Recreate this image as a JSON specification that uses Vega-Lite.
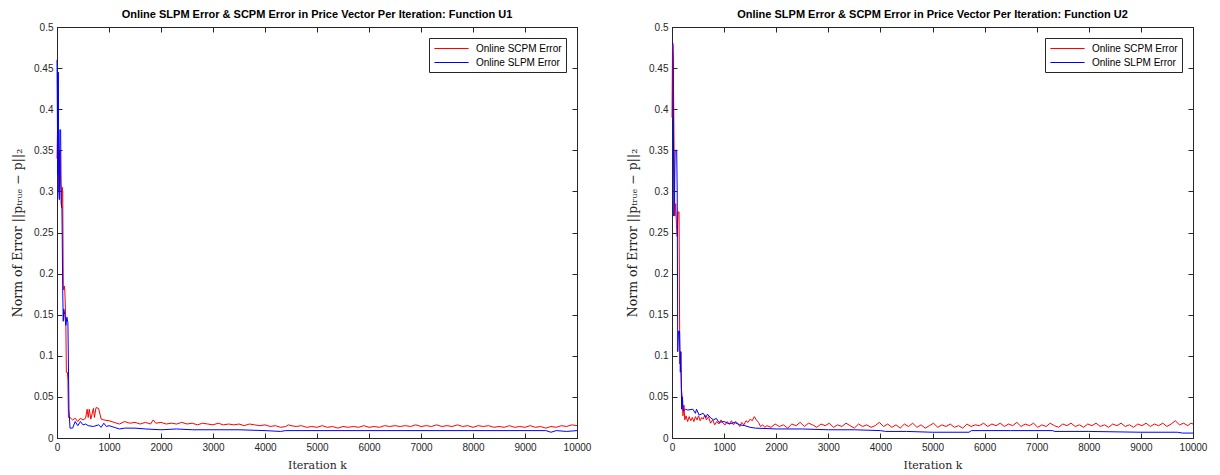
{
"$schema": "https://vega.github.io/schema/vega-lite/v6.json",
"padding": {"left": 11, "top": 8, "right": 2, "bottom": 2},
"background": "white",
"bounds": "flush",
"spacing": 95,
"resolve": {"legend": {"color": "independent"}},
"config": {
  "font": "Liberation Sans",
  "view": {"stroke": "#262626", "strokeWidth": 1},
  "axis": {"grid": false, "labelFont": "Liberation Sans", "labelFontSize": 10, "labelColor": "#262626", "domainColor": "#262626", "tickColor": "#262626", "tickSize": -5, "labelPadding": 9, "titleFont": "DejaVu Serif", "titleFontSize": 11, "titleFontWeight": "normal", "titleColor": "#262626"},
  "axisX": {"labelPadding": 9, "titlePadding": 7},
  "axisY": {"titleFontSize": 12.5},
  "title": {"font": "Liberation Sans", "fontSize": 11, "fontWeight": "bold", "color": "black", "offset": 2, "anchor": "middle"},
  "legend": {"orient": "top-right", "offset": 11, "title": null, "strokeColor": "#262626", "fillColor": "white", "padding": 4, "symbolType": "M-3,0H3", "symbolSize": 130, "symbolOffset": 12, "labelOffset": 18, "symbolStrokeWidth": 1.2, "labelFont": "Liberation Sans", "labelFontSize": 10, "labelColor": "black", "rowPadding": 2, "cornerRadius": 0}
},
"datasets": {
  "u1r": [
    {"k":0,"e":0.34},{"k":10,"e":0.375},{"k":20,"e":0.335},{"k":30,"e":0.35},{"k":40,"e":0.30},{"k":50,"e":0.35},{"k":60,"e":0.35},{"k":70,"e":0.31},{"k":80,"e":0.30},{"k":90,"e":0.28},{"k":100,"e":0.305},{"k":110,"e":0.30},{"k":120,"e":0.185},{"k":130,"e":0.18},{"k":140,"e":0.185},{"k":150,"e":0.18},{"k":170,"e":0.14},{"k":180,"e":0.08},{"k":200,"e":0.08},{"k":210,"e":0.07},{"k":220,"e":0.025},{"k":250,"e":0.025},{"k":300,"e":0.022},{"k":350,"e":0.024},{"k":400,"e":0.02},{"k":450,"e":0.024},{"k":500,"e":0.022},{"k":550,"e":0.024},{"k":580,"e":0.035},{"k":600,"e":0.025},{"k":620,"e":0.035},{"k":650,"e":0.023},{"k":700,"e":0.036},{"k":720,"e":0.025},{"k":750,"e":0.037},{"k":800,"e":0.036},{"k":830,"e":0.028},{"k":850,"e":0.023},{"k":900,"e":0.022},
    {"k":1000,"e":0.021},{"k":1100,"e":0.019},{"k":1200,"e":0.017},{"k":1300,"e":0.02},{"k":1400,"e":0.018},{"k":1500,"e":0.019},{"k":1600,"e":0.017},{"k":1700,"e":0.019},{"k":1800,"e":0.017},{"k":1850,"e":0.022},{"k":1900,"e":0.018},{"k":2000,"e":0.019},{"k":2100,"e":0.017},{"k":2200,"e":0.018},{"k":2300,"e":0.017},{"k":2400,"e":0.019},{"k":2500,"e":0.017},{"k":2600,"e":0.018},{"k":2700,"e":0.016},{"k":2800,"e":0.018},{"k":2900,"e":0.017},{"k":3000,"e":0.016},{"k":3100,"e":0.018},{"k":3200,"e":0.016},{"k":3300,"e":0.017},{"k":3400,"e":0.016},{"k":3500,"e":0.017},{"k":3600,"e":0.015},{"k":3700,"e":0.017},{"k":3800,"e":0.016},{"k":3900,"e":0.015},{"k":4000,"e":0.016},{"k":4100,"e":0.014},{"k":4200,"e":0.015},{"k":4300,"e":0.013},{"k":4400,"e":0.014},{"k":4450,"e":0.016},{"k":4500,"e":0.015},{"k":4600,"e":0.014},{"k":4700,"e":0.015},{"k":4800,"e":0.013},{"k":4900,"e":0.014},{"k":5000,"e":0.013},{"k":5100,"e":0.015},{"k":5200,"e":0.013},{"k":5300,"e":0.014},{"k":5400,"e":0.012},{"k":5500,"e":0.014},{"k":5600,"e":0.013},{"k":5700,"e":0.014},{"k":5800,"e":0.013},{"k":5900,"e":0.015},{"k":6000,"e":0.013},{"k":6100,"e":0.014},{"k":6200,"e":0.013},{"k":6300,"e":0.015},{"k":6400,"e":0.014},{"k":6500,"e":0.015},{"k":6600,"e":0.014},{"k":6700,"e":0.015},{"k":6800,"e":0.014},{"k":6900,"e":0.016},{"k":7000,"e":0.014},{"k":7100,"e":0.015},{"k":7200,"e":0.014},{"k":7300,"e":0.016},{"k":7400,"e":0.014},{"k":7500,"e":0.015},{"k":7600,"e":0.014},{"k":7700,"e":0.016},{"k":7800,"e":0.014},{"k":7900,"e":0.015},{"k":8000,"e":0.013},{"k":8100,"e":0.015},{"k":8200,"e":0.014},{"k":8300,"e":0.015},{"k":8400,"e":0.013},{"k":8500,"e":0.014},{"k":8600,"e":0.013},{"k":8700,"e":0.015},{"k":8800,"e":0.013},{"k":8900,"e":0.014},{"k":9000,"e":0.013},{"k":9100,"e":0.015},{"k":9200,"e":0.013},{"k":9300,"e":0.014},{"k":9400,"e":0.012},{"k":9500,"e":0.014},{"k":9600,"e":0.013},{"k":9700,"e":0.015},{"k":9800,"e":0.014},{"k":9900,"e":0.016},{"k":10000,"e":0.015}
  ],
  "u1b": [
    {"k":0,"e":0.46},{"k":15,"e":0.32},{"k":25,"e":0.445},{"k":35,"e":0.30},{"k":45,"e":0.29},{"k":55,"e":0.375},{"k":70,"e":0.375},{"k":80,"e":0.285},{"k":95,"e":0.28},{"k":110,"e":0.18},{"k":120,"e":0.142},{"k":130,"e":0.157},{"k":150,"e":0.15},{"k":170,"e":0.137},{"k":190,"e":0.147},{"k":210,"e":0.14},{"k":230,"e":0.035},{"k":250,"e":0.012},{"k":300,"e":0.012},{"k":350,"e":0.02},{"k":400,"e":0.015},{"k":450,"e":0.02},{"k":500,"e":0.016},{"k":550,"e":0.017},{"k":600,"e":0.015},{"k":700,"e":0.014},{"k":800,"e":0.016},{"k":850,"e":0.013},{"k":900,"e":0.018},{"k":950,"e":0.014},{"k":1000,"e":0.015},{"k":1100,"e":0.013},{"k":1200,"e":0.011},{"k":1300,"e":0.012},{"k":1500,"e":0.012},{"k":1700,"e":0.011},{"k":2000,"e":0.010},{"k":2300,"e":0.011},{"k":2600,"e":0.01},{"k":3000,"e":0.01},{"k":3500,"e":0.01},{"k":4000,"e":0.009},{"k":4300,"e":0.008},{"k":4400,"e":0.009},{"k":5000,"e":0.009},{"k":6000,"e":0.009},{"k":7000,"e":0.009},{"k":8000,"e":0.009},{"k":9000,"e":0.009},{"k":9400,"e":0.009},{"k":9500,"e":0.007},{"k":9600,"e":0.009},{"k":9800,"e":0.008},{"k":10000,"e":0.009}
  ],
  "u2r": [
    {"k":0,"e":0.39},{"k":10,"e":0.48},{"k":25,"e":0.46},{"k":40,"e":0.35},{"k":55,"e":0.27},{"k":70,"e":0.285},{"k":85,"e":0.26},{"k":100,"e":0.245},{"k":115,"e":0.275},{"k":135,"e":0.275},{"k":150,"e":0.09},{"k":165,"e":0.105},{"k":180,"e":0.06},{"k":195,"e":0.05},{"k":210,"e":0.027},{"k":230,"e":0.04},{"k":245,"e":0.022},{"k":270,"e":0.027},{"k":300,"e":0.02},{"k":330,"e":0.026},{"k":360,"e":0.021},{"k":390,"e":0.025},{"k":420,"e":0.02},{"k":450,"e":0.026},{"k":480,"e":0.022},{"k":510,"e":0.027},{"k":540,"e":0.021},{"k":570,"e":0.025},{"k":600,"e":0.023},{"k":630,"e":0.028},{"k":660,"e":0.022},{"k":700,"e":0.026},{"k":740,"e":0.018},{"k":780,"e":0.022},{"k":820,"e":0.016},{"k":860,"e":0.02},{"k":900,"e":0.017},{"k":940,"e":0.022},{"k":980,"e":0.018},{"k":1020,"e":0.016},{"k":1060,"e":0.02},{"k":1100,"e":0.017},{"k":1140,"e":0.021},{"k":1180,"e":0.016},{"k":1220,"e":0.02},{"k":1260,"e":0.018},{"k":1300,"e":0.014},{"k":1340,"e":0.019},{"k":1380,"e":0.016},{"k":1420,"e":0.021},{"k":1460,"e":0.019},{"k":1500,"e":0.023},{"k":1540,"e":0.021},{"k":1580,"e":0.026},{"k":1620,"e":0.022},{"k":1660,"e":0.019},{"k":1700,"e":0.014},{"k":1740,"e":0.016},{"k":1780,"e":0.013},
    {"k":1820,"e":0.015},{"k":1900,"e":0.013},{"k":1980,"e":0.017},{"k":2060,"e":0.014},{"k":2140,"e":0.016},{"k":2220,"e":0.012},{"k":2300,"e":0.017},{"k":2380,"e":0.015},{"k":2460,"e":0.019},{"k":2540,"e":0.014},{"k":2620,"e":0.018},{"k":2700,"e":0.016},{"k":2780,"e":0.013},{"k":2860,"e":0.017},{"k":2940,"e":0.015},{"k":3020,"e":0.018},{"k":3100,"e":0.013},{"k":3180,"e":0.016},{"k":3260,"e":0.014},{"k":3340,"e":0.018},{"k":3420,"e":0.015},{"k":3500,"e":0.012},{"k":3580,"e":0.017},{"k":3660,"e":0.014},{"k":3740,"e":0.016},{"k":3820,"e":0.013},{"k":3900,"e":0.015},{"k":3980,"e":0.019},{"k":4060,"e":0.014},{"k":4140,"e":0.017},{"k":4220,"e":0.013},{"k":4300,"e":0.016},{"k":4380,"e":0.012},{"k":4460,"e":0.017},{"k":4540,"e":0.014},{"k":4620,"e":0.018},{"k":4700,"e":0.013},{"k":4780,"e":0.016},{"k":4860,"e":0.012},{"k":4940,"e":0.015},{"k":5020,"e":0.018},{"k":5100,"e":0.013},{"k":5180,"e":0.016},{"k":5260,"e":0.014},{"k":5340,"e":0.017},{"k":5420,"e":0.013},{"k":5500,"e":0.015},{"k":5580,"e":0.012},{"k":5660,"e":0.017},{"k":5740,"e":0.014},{"k":5820,"e":0.016},{"k":5900,"e":0.015},{"k":5980,"e":0.018},{"k":6060,"e":0.014},{"k":6140,"e":0.017},{"k":6220,"e":0.015},{"k":6300,"e":0.018},{"k":6380,"e":0.014},{"k":6460,"e":0.017},{"k":6540,"e":0.015},{"k":6620,"e":0.019},{"k":6700,"e":0.014},{"k":6780,"e":0.017},{"k":6860,"e":0.015},{"k":6940,"e":0.018},{"k":7020,"e":0.013},{"k":7100,"e":0.016},{"k":7180,"e":0.014},{"k":7260,"e":0.018},{"k":7340,"e":0.015},{"k":7420,"e":0.013},{"k":7500,"e":0.017},{"k":7580,"e":0.015},{"k":7660,"e":0.018},{"k":7740,"e":0.014},{"k":7820,"e":0.016},{"k":7900,"e":0.013},{"k":7980,"e":0.017},{"k":8060,"e":0.015},{"k":8140,"e":0.018},{"k":8220,"e":0.014},{"k":8300,"e":0.016},{"k":8380,"e":0.013},{"k":8460,"e":0.017},{"k":8540,"e":0.015},{"k":8620,"e":0.018},{"k":8700,"e":0.014},{"k":8780,"e":0.016},{"k":8860,"e":0.013},{"k":8940,"e":0.017},{"k":9020,"e":0.015},{"k":9100,"e":0.018},{"k":9180,"e":0.014},{"k":9260,"e":0.017},{"k":9340,"e":0.015},{"k":9420,"e":0.018},{"k":9500,"e":0.014},{"k":9580,"e":0.017},{"k":9660,"e":0.021},{"k":9740,"e":0.016},{"k":9820,"e":0.018},{"k":9900,"e":0.015},{"k":9960,"e":0.018},{"k":10000,"e":0.017}
  ],
  "u2b": [
    {"k":0,"e":0.48},{"k":20,"e":0.48},{"k":35,"e":0.27},{"k":50,"e":0.30},{"k":60,"e":0.35},{"k":90,"e":0.35},{"k":100,"e":0.30},{"k":110,"e":0.105},{"k":125,"e":0.13},{"k":145,"e":0.13},{"k":160,"e":0.08},{"k":170,"e":0.105},{"k":185,"e":0.035},{"k":200,"e":0.05},{"k":215,"e":0.033},{"k":260,"e":0.035},{"k":300,"e":0.034},{"k":400,"e":0.035},{"k":450,"e":0.03},{"k":470,"e":0.035},{"k":520,"e":0.028},{"k":600,"e":0.03},{"k":650,"e":0.025},{"k":680,"e":0.029},{"k":750,"e":0.024},{"k":800,"e":0.022},{"k":850,"e":0.024},{"k":900,"e":0.019},{"k":1000,"e":0.02},{"k":1100,"e":0.017},{"k":1200,"e":0.019},{"k":1300,"e":0.016},{"k":1400,"e":0.015},{"k":1500,"e":0.013},{"k":1600,"e":0.012},{"k":2000,"e":0.011},{"k":2500,"e":0.011},{"k":3000,"e":0.01},{"k":3500,"e":0.01},{"k":4000,"e":0.009},{"k":4100,"e":0.008},{"k":4500,"e":0.008},{"k":5000,"e":0.007},{"k":5700,"e":0.007},{"k":5750,"e":0.009},{"k":6500,"e":0.009},{"k":7300,"e":0.009},{"k":7350,"e":0.008},{"k":8000,"e":0.008},{"k":9000,"e":0.007},{"k":9700,"e":0.007},{"k":9800,"e":0.006},{"k":10000,"e":0.006}
  ]
},
"hconcat": [
  {
    "width": 520, "height": 411,
    "title": "Online SLPM Error & SCPM Error in Price Vector Per Iteration: Function U1",
    "resolve": {"axis": {"x": "independent", "y": "independent"}},
    "layer": [
      {"data": {"name": "u1r"}, "mark": {"type": "line", "strokeWidth": 1},
       "encoding": {
         "x": {"field": "k", "type": "quantitative", "scale": {"domain": [0, 10000], "nice": false}, "axis": {"values": [0,1000,2000,3000,4000,5000,6000,7000,8000,9000,10000], "format": "d", "title": "Iteration k", "labelFlush": false}},
         "y": {"field": "e", "type": "quantitative", "scale": {"domain": [0, 0.5], "nice": false}, "axis": {"values": [0,0.05,0.1,0.15,0.2,0.25,0.3,0.35,0.4,0.45,0.5], "format": "~g", "title": "Norm of Error ||pₜᵣᵤₑ − p||₂", "titlePadding": 9}},
         "color": {"datum": "Online SCPM Error", "type": "nominal", "scale": {"domain": ["Online SCPM Error", "Online SLPM Error"], "range": ["#ff0000", "#0000ff"]}}
       }},
      {"data": {"name": "u1b"}, "mark": {"type": "line", "strokeWidth": 1},
       "encoding": {
         "x": {"field": "k", "type": "quantitative", "axis": {"orient": "top", "values": [0,1000,2000,3000,4000,5000,6000,7000,8000,9000,10000], "labels": false, "title": null}},
         "y": {"field": "e", "type": "quantitative", "axis": {"orient": "right", "values": [0,0.05,0.1,0.15,0.2,0.25,0.3,0.35,0.4,0.45,0.5], "labels": false, "title": null}},
         "color": {"datum": "Online SLPM Error", "type": "nominal"}
       }}
    ]
  },
  {
    "width": 521, "height": 411,
    "title": "Online SLPM Error & SCPM Error in Price Vector Per Iteration: Function U2",
    "resolve": {"axis": {"x": "independent", "y": "independent"}},
    "layer": [
      {"data": {"name": "u2r"}, "mark": {"type": "line", "strokeWidth": 1},
       "encoding": {
         "x": {"field": "k", "type": "quantitative", "scale": {"domain": [0, 10000], "nice": false}, "axis": {"values": [0,1000,2000,3000,4000,5000,6000,7000,8000,9000,10000], "format": "d", "title": "Iteration k", "labelFlush": false}},
         "y": {"field": "e", "type": "quantitative", "scale": {"domain": [0, 0.5], "nice": false}, "axis": {"values": [0,0.05,0.1,0.15,0.2,0.25,0.3,0.35,0.4,0.45,0.5], "format": "~g", "title": "Norm of Error ||pₜᵣᵤₑ − p||₂", "titlePadding": 9}},
         "color": {"datum": "Online SCPM Error", "type": "nominal", "scale": {"domain": ["Online SCPM Error", "Online SLPM Error"], "range": ["#ff0000", "#0000ff"]}}
       }},
      {"data": {"name": "u2b"}, "mark": {"type": "line", "strokeWidth": 1},
       "encoding": {
         "x": {"field": "k", "type": "quantitative", "axis": {"orient": "top", "values": [0,1000,2000,3000,4000,5000,6000,7000,8000,9000,10000], "labels": false, "title": null}},
         "y": {"field": "e", "type": "quantitative", "axis": {"orient": "right", "values": [0,0.05,0.1,0.15,0.2,0.25,0.3,0.35,0.4,0.45,0.5], "labels": false, "title": null}},
         "color": {"datum": "Online SLPM Error", "type": "nominal"}
       }}
    ]
  }
]
}
